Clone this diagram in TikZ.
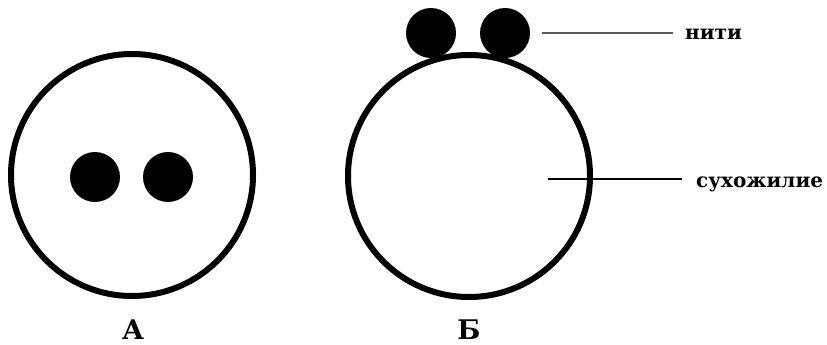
\documentclass[tikz,border=0pt]{standalone}
\usepackage{fontspec}
\setmainfont{DejaVu Serif}
\begin{document}
\begin{tikzpicture}[x=1pt,y=-1pt,
  bigcirc/.style={circle,draw=black,line width=6pt,minimum size=242pt,inner sep=0pt,fill=white},
  dot/.style={circle,fill=black,minimum size=50pt,inner sep=0pt},
  lbl/.style={font=\fontsize{20}{22}\selectfont\bfseries,inner sep=0pt,anchor=base west},
  letterlbl/.style={font=\fontsize{27}{30}\selectfont\bfseries,inner sep=0pt,anchor=base},
  leader/.style={line width=1.2pt}]
\useasboundingbox (0,0) rectangle (827,345);
% Figure A
\node[bigcirc] (A) at (132,175) {};
\node[dot] (a1) at (95,177) {};
\node[dot] (a2) at (168,177) {};
\node[letterlbl] (la) at (133,339) {А};
% Figure B
\node[bigcirc] (B) at (469,176) {};
\node[dot] (b1) at (431,33) {};
\node[dot] (b2) at (505,33) {};
\node[letterlbl] (lb) at (469,339) {Б};
% labels
\node[lbl] (niti) at (685,40) {нити};
\node[lbl] (sux) at (696,187) {сухожилие};
\coordinate (n0) at (542,33);
\coordinate (n1) at (673,33);
\coordinate (s0) at (548,179);
\coordinate (s1) at (682,179);
\draw[leader,draw=black!65] (n0) -- (n1);
\draw[leader] (s0) -- (s1);
\end{tikzpicture}
\end{document}
